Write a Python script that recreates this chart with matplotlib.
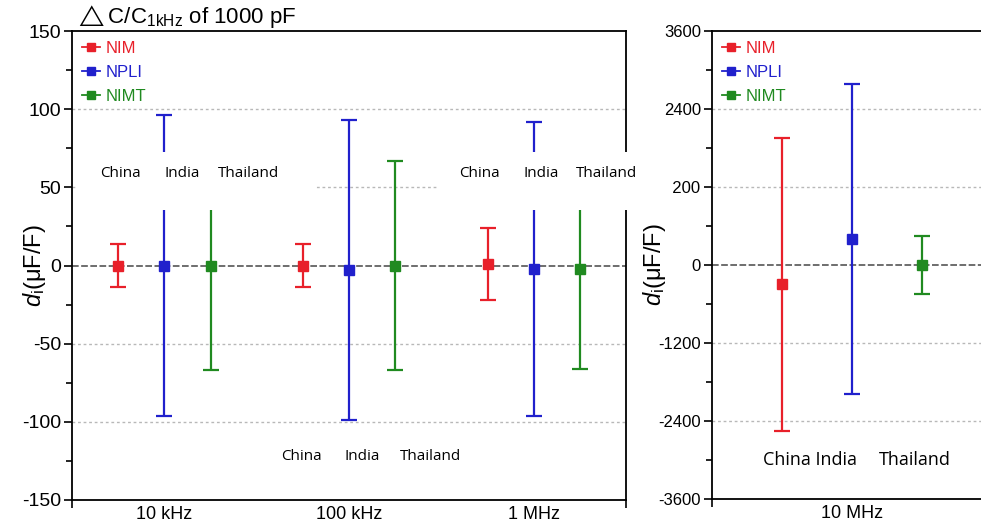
import matplotlib.pyplot as plt
from matplotlib.patches import Rectangle
from matplotlib.lines import Line2D
from matplotlib.ticker import MultipleLocator, FixedLocator
import numpy as np

plt.rcParams['font.family'] = ['Liberation Sans', 'DejaVu Sans']
plt.rcParams['axes.unicode_minus'] = False
plt.rcParams['mathtext.fontset'] = 'custom'
plt.rcParams['mathtext.rm'] = 'Liberation Sans'
plt.rcParams['mathtext.it'] = 'Liberation Sans:italic'

# left panel: dC/C of 1000 pF at 10 kHz, 100 kHz, 1 MHz
freqs = ['10 kHz', '100 kHz', '1 MHz']
nim_val = [0, 0, 1]
nim_err = [14, 14, 23]
npli_val = [0, -3, -2]
npli_err = [96, 96, 94]
nimt_val = [0, 0, -2]
nimt_err = [67, 67, 64]

# right panel: 10 MHz
freq_hi = ['10 MHz']
nim_hi = [-300]
nim_hi_err = [2250]
npli_hi = [400]
npli_hi_err = [2380]
nimt_hi = [0]
nimt_hi_err = [450]

labs = ['NIM', 'NPLI', 'NIMT']
cols = ['#e8202a', '#2020cc', '#208a20']
offs = [-0.25, 0.0, 0.25]

W, H = 981, 523
fig = plt.figure(figsize=(W / 100, H / 100), dpi=100)

def px(x0, y0, x1, y1):
    # pixel box -> figure fraction [left, bottom, width, height]
    return [x0 / W, 1 - y1 / H, (x1 - x0) / W, (y1 - y0) / H]

ax1 = fig.add_axes(px(72, 31, 626, 500))
ax2 = fig.add_axes(px(712, 31, 992, 499))

def draw(ax, cats, vals, errs, ylim, step, fs, ylab_x):
    x = np.arange(1, len(cats) + 1)
    for v, e, c, o in zip(vals, errs, cols, offs):
        ax.errorbar(x + o, v, yerr=e, fmt='s', color=c, ms=7, capsize=6,
                    elinewidth=1.6, capthick=1.6, zorder=3)
    ax.set_xlim(0.5, len(cats) + 0.5)
    ax.set_ylim(*ylim)
    ax.set_xticks(x)
    ax.set_xticklabels(cats, fontsize=13)
    ax.tick_params(axis='x', length=0, pad=4)
    ax.xaxis.set_minor_locator(FixedLocator([0.5, len(cats) + 0.5]))
    ax.tick_params(axis='x', which='minor', length=6, width=1.2, direction='out')
    ax.yaxis.set_major_locator(MultipleLocator(step))
    ax.yaxis.set_minor_locator(MultipleLocator(step / 2))
    ax.tick_params(axis='y', which='major', length=6, width=1.2, labelsize=fs,
                   direction='out', pad=2)
    ax.tick_params(axis='y', which='minor', length=4, width=1.2, direction='out')
    for g in (-2 * step, -step, step, 2 * step):
        ax.axhline(g, color='#b8b8b8', lw=1, ls=(0, (2, 2)), zorder=1)
    ax.axhline(0, color='#555555', lw=1.2, ls=(0, (4, 1.5)), zorder=1)
    for s in ax.spines.values():
        s.set_linewidth(1.3)
    ax.set_ylabel(r'$d_{\mathrm{i}}$(μF/F)', fontsize=17)
    ax.yaxis.set_label_coords(ylab_x, 0.5)
    handles = [Line2D([], [], color=c, marker='s', ms=6, lw=1.3) for c in cols]
    leg = ax.legend(handles, labs, loc='upper left', frameon=False, fontsize=12,
                    handlelength=1.1, handletextpad=0.3, labelspacing=0.55,
                    borderaxespad=0.2)
    for t, c in zip(leg.get_texts(), cols):
        t.set_color(c)

draw(ax1, freqs, [nim_val, npli_val, nimt_val], [nim_err, npli_err, nimt_err],
     (-150, 150), 50, 14, (48 - 72) / 554)
draw(ax2, freq_hi, [nim_hi, npli_hi, nimt_hi], [nim_hi_err, npli_hi_err, nimt_hi_err],
     (-3600, 3600), 1200, 12, (668 - 712) / 280)

fig.text(75 / W, 1 - 17 / H, r'$\triangle$C/C$_{\mathrm{1kHz}}$ of 1000 pF', fontsize=16,
         ha='left', va='center')

# pasted white label boxes
for x0, y0, x1, y1 in [(76, 152, 316, 210), (438, 152, 673, 210)]:
    fig.patches.append(Rectangle((x0 / W, 1 - y1 / H), (x1 - x0) / W, (y1 - y0) / H,
                                 transform=fig.transFigure, facecolor='white',
                                 edgecolor='none', zorder=10))

lab_font = ['Open Sans', 'DejaVu Sans']
for x, y, s, fs in [(120, 174, 'China', 11), (182, 174, 'India', 11), (249, 174, 'Thailand', 11),
                    (479, 174, 'China', 11), (541, 174, 'India', 11), (607, 174, 'Thailand', 11),
                    (301, 457, 'China', 11), (362, 457, 'India', 11), (431, 457, 'Thailand', 11),
                    (810, 460, 'China India', 13), (915, 460, 'Thailand', 13)]:
    fig.text(x / W, 1 - y / H, s, fontsize=fs, family=lab_font, ha='center',
             va='center', zorder=11)

fig.savefig('out.png', dpi=100)
